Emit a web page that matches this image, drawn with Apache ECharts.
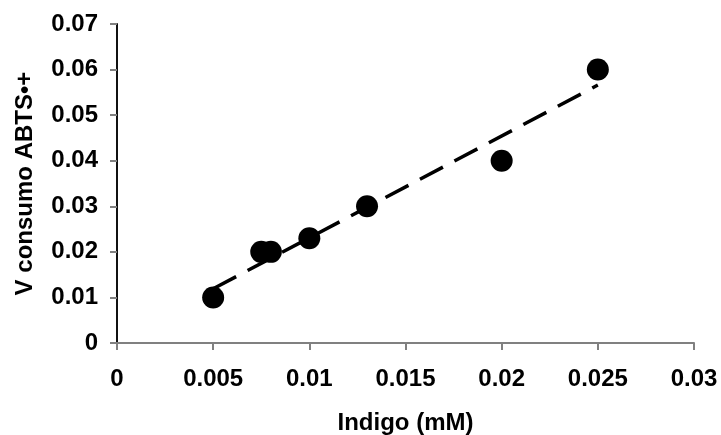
<!DOCTYPE html>
<html>
<head>
<meta charset="utf-8">
<script src="https://cdn.jsdelivr.net/npm/echarts@6/dist/echarts.min.js"></script>
<style>html,body{margin:0;padding:0;background:#fff}#c{width:721px;height:435px}</style>
</head>
<body>
<div id="c"></div>
<script>
var xValues = [0.005, 0.0075, 0.008, 0.01, 0.013, 0.02, 0.025];
var yValues = [0.01, 0.02, 0.02, 0.023, 0.03, 0.04, 0.06];
var trendX = [0.005, 0.025];
var trendY = [0.0119, 0.0566];
var xTicks = ['0', '0.005', '0.01', '0.015', '0.02', '0.025', '0.03'];
var yTicks = ['0', '0.01', '0.02', '0.03', '0.04', '0.05', '0.06', '0.07'];

var pts = xValues.map(function (x, i) { return [x, yValues[i]]; });
var trend = trendX.map(function (x, i) { return [x, trendY[i]]; });
var font = 'Liberation Sans, Arial, sans-serif';

var chart = echarts.init(document.getElementById('c'));
chart.setOption({
  animation: false,
  backgroundColor: '#fff',
  grid: { left: 117, right: 27, top: 24, bottom: 92, containLabel: false, outerBoundsMode: 'none' },
  xAxis: {
    type: 'value', min: 0, max: 0.03, interval: 0.005,
    name: 'Indigo (mM)', nameLocation: 'middle', nameGap: 68, nameMoveOverlap: false,
    nameTextStyle: { fontFamily: font, fontWeight: 'bold', fontSize: 24, color: '#000' },
    axisLine: { onZero: false, lineStyle: { color: '#808080', width: 2 } },
    axisTick: { show: true, inside: false, length: 7, lineStyle: { color: '#808080', width: 2 } },
    axisLabel: {
      margin: 24, fontFamily: font, fontWeight: 'bold', fontSize: 24, color: '#000',
      formatter: function (v) { var i = Math.round(v / 0.005); return xTicks[i]; }
    },
    splitLine: { show: false }
  },
  yAxis: {
    type: 'value', min: 0, max: 0.07, interval: 0.01,
    name: 'V consumo ABTS•+', nameLocation: 'middle', nameGap: 80, nameRotate: 90, nameMoveOverlap: false,
    nameTextStyle: { fontFamily: font, fontWeight: 'bold', fontSize: 24, color: '#000' },
    axisLine: { show: true, lineStyle: { color: '#111', width: 2 } },
    axisTick: { show: true, inside: false, length: 7, lineStyle: { color: '#808080', width: 2 } },
    axisLabel: {
      margin: 19, fontFamily: font, fontWeight: 'bold', fontSize: 24, color: '#000',
      formatter: function (v) { var i = Math.round(v / 0.01); return yTicks[i]; }
    },
    splitLine: { show: false }
  },
  series: [
    {
      type: 'line', data: trend, symbol: 'none', silent: true,
      lineStyle: { color: '#000', width: 3.5, type: [26, 13] }, z: 2
    },
    {
      type: 'scatter', data: pts, symbol: 'circle', symbolSize: 22,
      itemStyle: { color: '#000', opacity: 1 }, z: 3
    }
  ]
});
</script>
</body>
</html>
